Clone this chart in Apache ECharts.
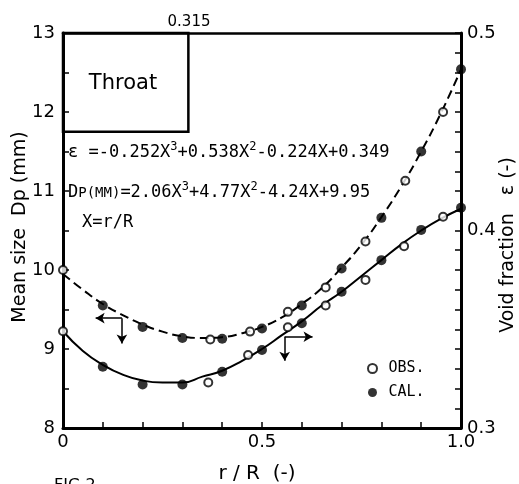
<!DOCTYPE html>
<html>
<head>
<meta charset="utf-8">
<script src="https://cdn.jsdelivr.net/npm/echarts@6/dist/echarts.min.js"></script>
<style>
html,body{margin:0;padding:0;background:#fff;}
#c{width:519px;height:484px;}
</style>
</head>
<body>
<div id="c"></div>
<script>
// ---- data ----
const curveX   = [0,0.05,0.1,0.15,0.2,0.25,0.3,0.35,0.4,0.45,0.5,0.55,0.6,0.65,0.7,0.75,0.8,0.85,0.9,0.95,1.0];
const dpCurve  = [9.95,9.75,9.57,9.43,9.31,9.22,9.16,9.14,9.15,9.20,9.28,9.40,9.57,9.77,10.03,10.32,10.67,11.06,11.50,11.99,12.54];
const epsCurve = [0.349,0.339,0.332,0.327,0.324,0.323,0.323,0.326,0.329,0.334,0.340,0.347,0.354,0.362,0.369,0.377,0.385,0.393,0.400,0.406,0.411];

const dpObsX  = [0,0.37,0.47,0.565,0.66,0.76,0.86,0.955];
const dpObsY  = [10.0,9.12,9.22,9.47,9.78,10.36,11.13,12.0];
const dpCalX  = [0.1,0.2,0.3,0.4,0.5,0.6,0.7,0.8,0.9,1.0];
const dpCalY  = [9.55,9.28,9.14,9.13,9.26,9.55,10.02,10.66,11.50,12.54];

const epsObsX = [0,0.365,0.465,0.565,0.66,0.76,0.857,0.955];
const epsObsY = [0.349,0.323,0.337,0.351,0.362,0.375,0.392,0.407];
const epsCalX = [0.1,0.2,0.3,0.4,0.5,0.6,0.7,0.8,0.9,1.0];
const epsCalY = [0.331,0.322,0.322,0.3285,0.3395,0.353,0.369,0.385,0.4003,0.4115];

const throatBox = [0, 0.315, 11.75, 13];          // r/R from, to ; Dp from, to
const dpArrow   = [0.148, 9.39, 0.082, 9.07];     // origin x, origin y, left end x, down end y
const epsArrow  = [0.557, 0.3462, 0.627, 0.3341]; // origin x, origin y, right end x, down end y

const xTickLabels   = {0:'0', 0.5:'0.5', 1:'1.0'};
const dpTickLabels  = [8,9,10,11,12,13];
const epsTickLabels = [0.3,0.4,0.5];

// ---- chart ----
const zip = (xs, ys) => xs.map((x,i)=>[x, ys[i]]);
const FONT = 'DejaVu Sans';
const MONO = 'DejaVu Sans Mono';
const chart = echarts.init(document.getElementById('c'), null, {renderer:'canvas'});

const axisLineStyle = {color:'#000', width:3};
const tickStyle = {show:true, inside:true, length:6, lineStyle:{color:'#000', width:1.5}};

const option = {
  backgroundColor:'#fff',
  animation:false,
  grid:{left:63, right:58, top:33, bottom:56, containLabel:false},
  xAxis:[
    {type:'value', min:0, max:1, interval:0.1, position:'bottom',
     axisLine:{show:true, onZero:false, lineStyle:axisLineStyle},
     axisTick:tickStyle, splitLine:{show:false},
     axisLabel:{color:'#000', fontSize:18, fontFamily:FONT, margin:5,
       formatter:v=>{ const k=Math.round(v*10)/10; return (xTickLabels[k]!==undefined && Math.abs(v-k)<1e-6)?xTickLabels[k]:''; }}},
    {type:'value', min:0, max:1, position:'top',
     axisLine:{show:true, onZero:false, lineStyle:{color:'#000', width:2.5}},
     axisTick:{show:false}, axisLabel:{show:false}, splitLine:{show:false}}
  ],
  yAxis:[
    {type:'value', min:8, max:13, interval:0.5, position:'left',
     axisLine:{show:true, onZero:false, lineStyle:axisLineStyle},
     axisTick:tickStyle, splitLine:{show:false},
     axisLabel:{color:'#000', fontSize:18, fontFamily:FONT, margin:8,
       formatter:v=>dpTickLabels.some(t=>Math.abs(t-v)<1e-6)?String(Math.round(v)):''}},
    {type:'value', min:0.3, max:0.5, interval:0.01, position:'right',
     axisLine:{show:true, onZero:false, lineStyle:axisLineStyle},
     axisTick:tickStyle, splitLine:{show:false},
     axisLabel:{color:'#000', fontSize:18, fontFamily:FONT, margin:6,
       formatter:v=>epsTickLabels.some(t=>Math.abs(t-v)<1e-6)?v.toFixed(1):''}}
  ],
  legend:{
    data:['OBS.','CAL.'], orient:'vertical', left:362, top:356,
    itemWidth:22, itemHeight:9, itemGap:9,
    textStyle:{color:'#000', fontSize:15, fontFamily:MONO},
    selectedMode:false
  },
  series:[
    {type:'line', name:'Dp curve', xAxisIndex:0, yAxisIndex:0, data:zip(curveX, dpCurve),
     smooth:true, showSymbol:false, silent:true, z:2,
     lineStyle:{color:'#000', width:2, type:[9,5]},
     markArea:{silent:true, itemStyle:{color:'rgba(0,0,0,0)', borderColor:'#000', borderWidth:2.5},
       label:{show:false},
       data:[[{coord:[throatBox[0], throatBox[2]]},{coord:[throatBox[1], throatBox[3]]}]]},
     markLine:{silent:true, symbol:['none','arrow'], symbolSize:[8,9], label:{show:false},
       lineStyle:{color:'#000', width:1.5, type:'solid'}, animation:false,
       data:[
         [{coord:[dpArrow[0], dpArrow[1]]},{coord:[dpArrow[2], dpArrow[1]]}],
         [{coord:[dpArrow[0], dpArrow[1]]},{coord:[dpArrow[0], dpArrow[3]]}]
       ]}
    },
    {type:'line', name:'eps curve', xAxisIndex:0, yAxisIndex:1, data:zip(curveX, epsCurve),
     smooth:true, showSymbol:false, silent:true, z:2,
     lineStyle:{color:'#000', width:2, type:'solid'},
     markLine:{silent:true, symbol:['none','arrow'], symbolSize:[8,9], label:{show:false},
       lineStyle:{color:'#000', width:1.5, type:'solid'}, animation:false,
       data:[
         [{coord:[epsArrow[0], epsArrow[1]]},{coord:[epsArrow[2], epsArrow[1]]}],
         [{coord:[epsArrow[0], epsArrow[1]]},{coord:[epsArrow[0], epsArrow[3]]}]
       ]}
    },
    {type:'scatter', name:'OBS.', yAxisIndex:0, data:zip(dpObsX, dpObsY), symbol:'circle', symbolSize:8, z:5,
     itemStyle:{color:'#fff', borderColor:'#000', borderWidth:2}},
    {type:'scatter', name:'CAL.', yAxisIndex:0, data:zip(dpCalX, dpCalY), symbol:'circle', symbolSize:10, z:5,
     itemStyle:{color:'#000'}},
    {type:'scatter', name:'OBS.', yAxisIndex:1, data:zip(epsObsX, epsObsY), symbol:'circle', symbolSize:8, z:5,
     itemStyle:{color:'#fff', borderColor:'#000', borderWidth:2}},
    {type:'scatter', name:'CAL.', yAxisIndex:1, data:zip(epsCalX, epsCalY), symbol:'circle', symbolSize:10, z:5,
     itemStyle:{color:'#000'}}
  ],
  graphic:[
    {type:'text', x:20, y:227, rotation:Math.PI/2,
     style:{text:'Mean size  Dp (mm)', font:'19px "DejaVu Sans"', fill:'#000', align:'center', verticalAlign:'middle'}},
    {type:'text', x:508, y:245, rotation:Math.PI/2,
     style:{text:'Void fraction   ε (-)', font:'19px "DejaVu Sans"', fill:'#000', align:'center', verticalAlign:'middle'}},
    {type:'text', x:257, y:474,
     style:{text:'r / R  (-)', font:'20px "DejaVu Sans"', fill:'#000', align:'center', verticalAlign:'middle'}},
    {type:'text', x:189, y:22,
     style:{text:'0.315', font:'15px "DejaVu Sans"', fill:'#000', align:'center', verticalAlign:'middle'}},
    {type:'text', x:123, y:84,
     style:{text:'Throat', font:'21px "DejaVu Sans"', fill:'#000', align:'center', verticalAlign:'middle'}},
    {type:'text', x:54, y:486,
     style:{text:'FIG.2', font:'16px "DejaVu Sans"', fill:'#000', align:'left', verticalAlign:'middle'}},
    {type:'text', x:68, y:153,
     style:{text:'{n|ε =-0.252X}{s|3}{n|+0.538X}{s|2}{n|-0.224X+0.349}',
       fill:'#000', align:'left', verticalAlign:'middle',
       rich:{n:{fontSize:17, fontFamily:MONO, lineHeight:24, fill:'#000'},
             s:{fontSize:12, fontFamily:MONO, lineHeight:14, verticalAlign:'top', fill:'#000'}}}},
    {type:'text', x:68, y:193,
     style:{text:'{n|D}{m|P(MM)}{n|=2.06X}{s|3}{n|+4.77X}{s|2}{n|-4.24X+9.95}',
       fill:'#000', align:'left', verticalAlign:'middle',
       rich:{n:{fontSize:17, fontFamily:MONO, lineHeight:24, fill:'#000'},
             m:{fontSize:14, fontFamily:MONO, lineHeight:24, fill:'#000'},
             s:{fontSize:12, fontFamily:MONO, lineHeight:14, verticalAlign:'top', fill:'#000'}}}},
    {type:'text', x:82, y:223,
     style:{text:'X=r/R', font:'17px "DejaVu Sans Mono"', fill:'#000', align:'left', verticalAlign:'middle'}}
  ]
};
chart.setOption(option);
</script>
</body>
</html>
